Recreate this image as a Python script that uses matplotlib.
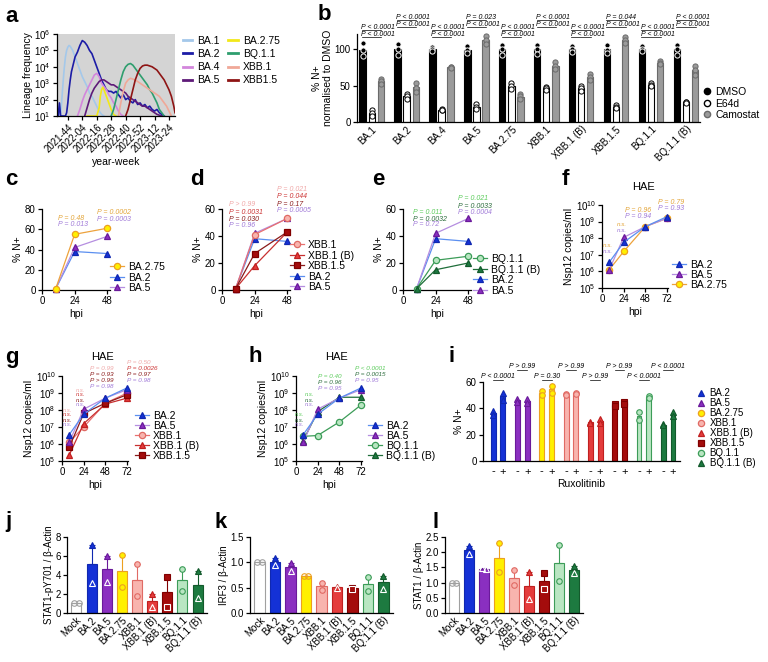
import matplotlib.pyplot as plt
from matplotlib.lines import Line2D
from matplotlib.ticker import NullLocator
import numpy as np

plt.rcParams['font.family'] = ['Liberation Sans', 'DejaVu Sans']
plt.rcParams['font.size'] = 7.5
plt.rcParams['axes.linewidth'] = 0.9
plt.rcParams['xtick.major.width'] = 0.9
plt.rcParams['ytick.major.width'] = 0.9
plt.rcParams['xtick.major.size'] = 3
plt.rcParams['ytick.major.size'] = 3
plt.rcParams['xtick.labelsize'] = 7
plt.rcParams['ytick.labelsize'] = 7
plt.rcParams['xtick.major.pad'] = 1.5
plt.rcParams['ytick.major.pad'] = 1.5
plt.rcParams['mathtext.default'] = 'regular'

# ---------------- data ----------------
# a: lineage frequency, log10 counts per week (week 0 = 2021-44)
week_ticks = [0, 12, 24, 36, 48, 60, 72, 84]
week_labels = ['2021-44', '2022-04', '2022-16', '2022-28', '2022-40', '2022-52', '2023-12', '2023-24']
ba1_wk = [-8, -7, -6, -5, -4, -3, -2, -1, 0, 1, 2, 4, 6, 8, 10, 12, 14, 16, 18, 20, 22, 24, 26, 28, 30]
ba1_lg = [1.0, 1.6, 1.0, 2.0, 3.0, 3.9, 4.6, 5.0, 5.2, 5.3, 5.25, 5.0, 4.6, 4.2, 3.8, 3.4, 3.1, 2.8, 2.4, 2.2, 1.9, 1.6, 1.3, 1.1, 1.0]
ba2_wk = [-8, -7, -6, -5, -4, -3, -2, -1, 0, 1, 2, 3, 4, 5, 6, 8, 10, 12, 14, 16, 18, 20, 22, 24, 26, 28, 30, 32, 34, 36,
          38, 40, 42, 44, 46, 48, 50, 52, 54, 56, 58, 60, 62, 64, 66, 68, 70, 72, 74, 76, 78, 80]
ba2_lg = [1.0, 1.8, 1.0, 1.0, 1.0, 1.0, 1.0, 1.2, 1.8, 2.6, 3.2, 3.7, 4.0, 4.3, 4.6, 4.9, 5.3, 5.6, 5.5, 5.3, 5.0, 4.8, 4.4,
          4.0, 3.6, 3.2, 2.9, 2.6, 2.5, 2.5, 2.4, 2.5, 2.3, 2.1, 2.3, 2.0, 2.1, 1.9, 1.8, 2.0, 1.7, 1.8, 1.6, 1.7, 1.5, 1.6,
          1.4, 1.3, 1.4, 1.2, 1.1, 1.0]
ba4_wk = [8, 10, 12, 14, 16, 18, 20, 22, 24, 26, 28, 30, 32, 34, 36, 38, 40, 42, 44, 46]
ba4_lg = [1.0, 1.4, 1.9, 2.3, 2.6, 2.9, 3.2, 3.5, 3.6, 3.4, 3.0, 2.8, 2.6, 2.3, 2.1, 1.8, 1.6, 1.3, 1.1, 1.0]
ba5_wk = [14, 16, 18, 20, 22, 24, 26, 28, 30, 32, 34, 36, 38, 40, 42, 44, 46, 48, 50, 52, 54, 56, 58, 60, 62, 64, 66,
          68, 70, 72, 74, 76, 78]
ba5_lg = [1.0, 1.5, 2.0, 2.4, 2.7, 2.9, 3.1, 3.2, 3.2, 3.1, 3.0, 2.9, 2.9, 2.8, 2.7, 2.6, 2.5, 2.4, 2.2, 2.1, 2.0, 1.9,
          1.8, 1.7, 1.6, 1.6, 1.5, 1.4, 1.3, 1.2, 1.1, 1.05, 1.0]
ba275_wk = [16, 20, 22, 24, 26, 27, 28, 29, 30, 32, 34, 36, 38, 40]
ba275_lg = [1.0, 1.0, 1.0, 1.0, 1.5, 2.2, 2.6, 2.75, 2.6, 2.2, 1.8, 1.4, 1.1, 1.0]
bq11_wk = [36, 38, 40, 42, 44, 46, 48, 50, 52, 54, 56, 58, 60, 62, 64, 66, 68, 70, 72, 74, 76, 78, 80]
bq11_lg = [1.0, 1.4, 2.0, 2.6, 3.2, 3.7, 4.0, 4.15, 4.2, 4.1, 3.9, 3.7, 3.5, 3.3, 3.1, 2.9, 2.6, 2.4, 2.1, 1.8, 1.4, 1.2, 1.0]
xbb1_wk = [42, 44, 46, 48, 50, 52, 54, 56, 58, 60, 62, 64, 66, 68, 70, 72, 74, 76, 78, 80, 82, 84, 86]
xbb1_lg = [1.0, 1.8, 2.5, 3.0, 3.2, 3.3, 3.25, 3.2, 3.1, 3.0, 2.9, 2.8, 2.7, 2.6, 2.5, 2.4, 2.3, 2.2, 2.0, 1.8, 1.6, 1.3, 1.0]
xbb15_wk = [48, 50, 52, 54, 56, 58, 60, 62, 64, 66, 68, 70, 72, 74, 76, 78, 80, 82, 84, 86, 88, 89]
xbb15_lg = [1.0, 1.4, 2.0, 2.6, 3.2, 3.6, 3.9, 4.05, 4.1, 4.1, 4.05, 4.0, 3.9, 3.8, 3.6, 3.4, 3.2, 2.9, 2.6, 2.2, 1.6, 1.2]

# b: % N+ normalised to DMSO (3 replicates)
b_variants = ['BA.1', 'BA.2', 'BA.4', 'BA.5', 'BA.2.75', 'XBB.1', 'XBB.1 (B)', 'XBB.1.5', 'BQ.1.1', 'BQ.1.1 (B)']
b_dmso = [[108, 99, 90], [107, 100, 92], [103, 100, 97], [104, 98, 95], [106, 100, 92],
          [106, 100, 93], [104, 100, 96], [106, 99, 94], [104, 100, 97], [106, 100, 92]]
b_e64d = [[16, 12, 8], [38, 35, 32], [18, 17, 16], [24, 21, 18], [53, 49, 45],
          [48, 46, 44], [50, 46, 42], [23, 21, 19], [53, 51, 50], [28, 27, 26]]
b_camo = [[59, 56, 52], [54, 47, 41], [76, 75, 74], [118, 113, 107], [38, 35, 31],
          [82, 77, 72], [66, 62, 58], [117, 112, 108], [83, 81, 79], [77, 71, 65]]
b_p_top = ['P < 0.0001', 'P < 0.0001', 'P < 0.0001', 'P = 0.023', 'P < 0.0001',
           'P < 0.0001', 'P < 0.0001', 'P = 0.044', 'P < 0.0001', 'P < 0.0001']
b_p_bot = ['P < 0.0001'] * 10

# c-e: % N+ in Calu-3 cells
hpi = [10, 24, 48]
n_ba2 = [1, 38, 36]
n_ba5 = [1, 42, 53]
n_ba275 = [1, 55, 61]
n_xbb1 = [1, 41, 53]
n_xbb1b = [1, 18, 43]
n_xbb15 = [1, 27, 43]
n_bq11 = [1, 22, 25]
n_bq11b = [1, 15, 20]

# f-h: HAE Nsp12 copies/ml (log10)
hae_hpi = [8, 24, 48, 72]
v_ba2 = [6.55, 7.75, 8.7, 9.3]
v_ba5 = [6.1, 8.05, 8.7, 9.2]
v_ba275 = [6.1, 7.2, 8.7, 9.2]
v_xbb1 = [6.1, 7.0, 8.4, 9.0]
v_xbb1b = [5.35, 7.2, 8.35, 8.7]
v_xbb15 = [5.8, 7.8, 8.4, 8.9]
v_bq11 = [6.45, 6.5, 7.3, 8.3]
v_bq11b = [6.2, 7.9, 8.75, 8.75]

# i: % N+ with / without ruxolitinib
i_variants = ['BA.2', 'BA.5', 'BA.2.75', 'XBB.1', 'XBB.1 (B)', 'XBB.1.5', 'BQ.1.1', 'BQ.1.1 (B)']
i_minus = [[38, 35], [47, 45], [53, 50], [51, 50], [30, 29], [43, 42], [37, 31], [28, 27]]
i_plus = [[52, 46], [47, 44], [57, 52], [52, 51], [32, 29], [45, 43], [49, 48], [37, 34]]
i_p = ['P < 0.0001', 'P > 0.99', 'P = 0.30', 'P > 0.99', 'P > 0.99', 'P > 0.99', 'P < 0.0001', 'P < 0.0001']

# j-l: western blot quantification (2 replicates)
wb_cats = ['Mock', 'BA.2', 'BA.5', 'BA.2.75', 'XBB.1', 'XBB.1 (B)', 'XBB.1.5', 'BQ.1.1', 'BQ.1.1 (B)']
j_pstat1 = [[1.1, 1.1], [7.2, 3.2], [6.0, 3.3], [6.1, 2.7], [5.2, 1.8], [2.0, 0.6], [3.8, 0.6], [4.6, 2.3], [4.4, 1.6]]
k_irf3 = [[1.0, 1.0], [1.08, 0.95], [0.98, 0.82], [0.74, 0.74], [0.6, 0.45], [0.52, 0.49], [0.5, 0.47], [0.71, 0.44], [0.74, 0.48]]
l_stat1 = [[1.0, 1.0], [2.2, 1.95], [1.47, 1.45], [2.3, 1.35], [1.4, 0.92], [1.35, 0.45], [1.3, 0.8], [2.25, 1.05], [1.55, 1.3]]

# ---------------- styles ----------------
# name: (marker, face, edge, line)
sty = {
    'Mock': ('o', 'white', '#a0a0a0', '#a0a0a0'),
    'BA.2': ('^', '#1431d6', '#1028b0', '#5b8ff0'),
    'BA.5': ('^', '#8a2fc0', '#6a1a9a', '#b58ee0'),
    'BA.2.75': ('o', '#fff000', '#eca020', '#eda23c'),
    'XBB.1': ('o', '#f8b4ae', '#e06a64', '#e87070'),
    'XBB.1 (B)': ('^', '#e43c3c', '#c02020', '#c83030'),
    'XBB.1.5': ('s', '#a40c0c', '#800000', '#8a1a1a'),
    'BQ.1.1': ('o', '#b9e6c2', '#3c9c58', '#3c9c58'),
    'BQ.1.1 (B)': ('^', '#1d7a40', '#135a2c', '#1f6e3a'),
}
ptc = {'orange': '#e3a53a', 'purple': '#a07ad8', 'pink': '#f0a8a8', 'red': '#cc3333',
       'dred': '#8a1a1a', 'lgreen': '#5ccc5c', 'dgreen': '#2e6e3e'}

W, H = 768, 662
fig = plt.figure(figsize=(W / 100, H / 100), dpi=100)


def box(x0, y0, x1, y1):
    ax = fig.add_axes([x0 / W, 1 - y1 / H, (x1 - x0) / W, (y1 - y0) / H])
    ax.spines['top'].set_visible(False)
    ax.spines['right'].set_visible(False)
    return ax


def ftxt(x, y, s, color='black', size=5, style='italic', **kw):
    fig.text(x / W, 1 - y / H, s, color=color, fontsize=size, style=style, va='center', ha='left', **kw)


def fleg(handles, x, y, size=7.5, **kw):
    fig.legend(handles=handles, loc='upper left', bbox_to_anchor=(x / W, 1 - y / H), frameon=False,
               fontsize=size, borderpad=0, borderaxespad=0, **kw)


def mk_handle(name, with_line=True):
    m, f, e, l = sty[name]
    return Line2D([], [], marker=m, mfc=f, mec=e, color=l, ms=4.5, mew=0.9,
                  lw=0.9 if with_line else 0, label=name)


def curve(ax, x, y, name):
    m, f, e, l = sty[name]
    ax.plot(x, y, color=l, lw=0.9, marker=m, mfc=f, mec=e, ms=4.5, mew=0.9, clip_on=False, zorder=3)


for lab, x, y in [('a', 5, 16), ('b', 318, 14), ('c', 5, 180), ('d', 190, 180), ('e', 372, 180), ('f', 562, 180),
                  ('g', 5, 357), ('h', 248, 357), ('i', 448, 357), ('j', 5, 522), ('k', 215, 522), ('l', 433, 522)]:
    ftxt(x, y, lab, size=16, style='normal', weight='bold')

# ---------------- a ----------------
ax = box(57, 34, 175, 116)
ax.set_facecolor('#d4d4d4')
a_series = [('BA.1', ba1_wk, ba1_lg, '#a4c8ea'), ('BA.2', ba2_wk, ba2_lg, '#1c1ca6'),
            ('BA.4', ba4_wk, ba4_lg, '#d386dc'), ('BA.5', ba5_wk, ba5_lg, '#5e1a78'),
            ('BA.2.75', ba275_wk, ba275_lg, '#f2e81a'), ('BQ.1.1', bq11_wk, bq11_lg, '#2e9e6e'),
            ('XBB.1', xbb1_wk, xbb1_lg, '#f0a898'), ('XBB1.5', xbb15_wk, xbb15_lg, '#8e1414')]
a_handles = []
for name, wk, lg, col in a_series:
    ax.plot(wk, 10.0 ** np.array(lg), color=col, lw=1.2)
    a_handles.append(Line2D([], [], color=col, lw=2, label=name))
ax.set_yscale('log')
ax.set_ylim(10, 1e6)
ax.set_xlim(-9, 89)
ax.set_yticks([1e1, 1e2, 1e3, 1e4, 1e5, 1e6])
ax.yaxis.set_minor_locator(NullLocator())
ax.set_xticks(week_ticks)
ax.set_xticklabels(week_labels, rotation=45, ha='right', rotation_mode='anchor')
ax.set_ylabel('Lineage frequency', fontsize=7.5, labelpad=1)
ax.set_xlabel('year-week', fontsize=7.5, labelpad=2)
fleg(a_handles, 183, 36, size=7.5, ncol=2, handlelength=0.9, handletextpad=0.5, labelspacing=0.3,
     columnspacing=0.8)

# ---------------- b ----------------
ax = box(357, 34.4, 700, 122)
xb = np.arange(len(b_variants))
offs = [-0.26, 0, 0.26]
conds = [(b_dmso, 'black', 'black', 'black', 'white'),
         (b_e64d, 'white', 'black', 'white', 'black'),
         (b_camo, '#9b9b9b', '#6a6a6a', '#9b9b9b', '#6a6a6a')]
for (vals, fc, ec, pfc, pec), dx in zip(conds, offs):
    for k, reps in enumerate(vals):
        ax.bar(k + dx, np.mean(reps), width=0.18, color=fc, edgecolor=ec, lw=0.8, zorder=2)
        ax.scatter([k + dx] * len(reps), reps, s=14, c=pfc, edgecolors=pec, linewidths=0.7, zorder=3,
                   clip_on=False)
# y (data units) of the text rows: 0.73 px per unit, axis origin at 122 px
for k in range(len(b_variants)):
    hi = k % 2 == 1
    rows = [(143.8, b_p_top[k]), (134.2, b_p_bot[k])] if hi else [(130.1, b_p_top[k]), (120.5, b_p_bot[k])]
    for yy, s in rows:
        ax.text(k - 0.3, yy, s, fontsize=5, style='italic', ha='left', va='center', clip_on=False)
        ax.plot([k - 0.28, k + 0.28], [yy - 3.6, yy - 3.6], color='black', lw=0.5, clip_on=False)
ax.set_xlim(-0.42, 9.4)
ax.set_ylim(0, 120)
ax.set_yticks([0, 50, 100])
ax.set_xticks(xb)
ax.set_xticklabels(b_variants, rotation=45, ha='right', rotation_mode='anchor', fontsize=7)
ax.tick_params(axis='x', length=0)
ax.set_ylabel('% N+\nnormalised to DMSO', fontsize=7.5, labelpad=1, linespacing=1.1)
fleg([Line2D([], [], marker='o', ls='', mfc='black', mec='black', ms=4.5, label='DMSO'),
      Line2D([], [], marker='o', ls='', mfc='white', mec='black', ms=4.5, label='E64d'),
      Line2D([], [], marker='o', ls='', mfc='#9b9b9b', mec='#6a6a6a', ms=4.5, label='Camostat')],
     703, 87, size=7.5, handlelength=0.8, handletextpad=0.4, labelspacing=0.15)


# ---------------- c, d, e ----------------
def npanel(x0, series, legend_names, ymax, yticks, lx, ly):
    ax = box(x0, 209, x0 + 68, 290)
    for name, vals in series:
        curve(ax, hpi, vals, name)
    ax.set_xlim(0, 50)
    ax.set_ylim(0, ymax)
    ax.set_xticks([0, 24, 48])
    ax.set_yticks(yticks)
    ax.set_ylabel('% N+', fontsize=7.5, labelpad=1)
    ax.set_xlabel('hpi', fontsize=7.5, labelpad=2)
    fleg([mk_handle(n) for n in legend_names], lx, ly, size=7.5, handlelength=1.3, handletextpad=0.4,
         labelspacing=0.05)
    return ax


npanel(42, [('BA.2', n_ba2), ('BA.5', n_ba5), ('BA.2.75', n_ba275)], ['BA.2.75', 'BA.2', 'BA.5'],
       80, [0, 20, 40, 60, 80], 110, 262)
ftxt(58, 218, 'P = 0.48', ptc['orange'])
ftxt(58, 224, 'P = 0.013', ptc['purple'])
ftxt(97, 212, 'P = 0.0002', ptc['orange'])
ftxt(97, 219, 'P = 0.0003', ptc['purple'])

npanel(222, [('BA.2', n_ba2), ('BA.5', n_ba5), ('XBB.1', n_xbb1), ('XBB.1 (B)', n_xbb1b), ('XBB.1.5', n_xbb15)],
       ['XBB.1', 'XBB.1 (B)', 'XBB.1.5', 'BA.2', 'BA.5'], 60, [0, 20, 40, 60], 290, 240)
for y, s, c in [(205, 'P > 0.99', 'pink'), (212, 'P = 0.0031', 'red'), (219, 'P = 0.030', 'dred'),
                (226, 'P = 0.96', 'purple')]:
    ftxt(229, y, s, ptc[c])
for y, s, c in [(190, 'P = 0.021', 'pink'), (197, 'P = 0.044', 'red'), (204, 'P = 0.17', 'dred'),
                (211, 'P = 0.0005', 'purple')]:
    ftxt(277, y, s, ptc[c])

npanel(403, [('BA.2', n_ba2), ('BA.5', n_ba5), ('BQ.1.1', n_bq11), ('BQ.1.1 (B)', n_bq11b)],
       ['BQ.1.1', 'BQ.1.1 (B)', 'BA.2', 'BA.5'], 60, [0, 20, 40, 60], 473, 254)
for y, s, c in [(212, 'P = 0.011', 'lgreen'), (219, 'P = 0.0032', 'dgreen'), (225, 'P = 0.72', 'purple')]:
    ftxt(413, y, s, ptc[c])
for y, s, c in [(198, 'P = 0.021', 'lgreen'), (206, 'P = 0.0033', 'dgreen'), (213, 'P = 0.0004', 'purple')]:
    ftxt(458, y, s, ptc[c])


# ---------------- f, g, h ----------------
def hpanel(x0, y0, y1, series, legend_names, lx, ly):
    ax = box(x0, y0, x0 + 66, y1)
    for name, vals in series:
        curve(ax, hae_hpi, 10.0 ** np.array(vals), name)
    ax.set_yscale('log')
    ax.set_ylim(1e5, 1e10)
    ax.set_yticks([1e5, 1e6, 1e7, 1e8, 1e9, 1e10])
    ax.yaxis.set_minor_locator(NullLocator())
    ax.set_xlim(0, 73)
    ax.set_xticks([0, 24, 48, 72])
    ax.set_ylabel('Nsp12 copies/ml', fontsize=7.5, labelpad=1)
    ax.set_xlabel('hpi', fontsize=7.5, labelpad=2)
    fleg([mk_handle(n) for n in legend_names], lx, ly, size=7.5, handlelength=1.3, handletextpad=0.4,
         labelspacing=0.0)
    return ax


hpanel(602, 205, 288, [('BA.2.75', v_ba275), ('BA.5', v_ba5), ('BA.2', v_ba2)], ['BA.2', 'BA.5', 'BA.2.75'],
       672, 260)
ftxt(632, 187, 'HAE', size=8, style='normal')
ftxt(625, 210, 'P = 0.96', ptc['orange'])
ftxt(625, 217, 'P = 0.94', ptc['purple'])
ftxt(658, 202, 'P = 0.79', ptc['orange'])
ftxt(658, 209, 'P = 0.93', ptc['purple'])
for x, y, c in [(603, 245, 'orange'), (603, 252, 'purple'), (617, 225, 'orange'), (617, 231, 'purple')]:
    ftxt(x, y, 'n.s.', ptc[c], size=4.5)

hpanel(62, 376, 461, [('XBB.1', v_xbb1), ('XBB.1 (B)', v_xbb1b), ('XBB.1.5', v_xbb15), ('BA.5', v_ba5),
                      ('BA.2', v_ba2)],
       ['BA.2', 'BA.5', 'XBB.1', 'XBB.1 (B)', 'XBB.1.5'], 135, 411)
ftxt(91, 357, 'HAE', size=8, style='normal')
for y, s, c in [(362, 'P = 0.50', 'pink'), (368, 'P = 0.0026', 'red'), (374, 'P = 0.97', 'dred'),
                (380, 'P = 0.98', 'purple')]:
    ftxt(127, y, s, ptc[c], size=4.6)
for y, s, c in [(368, 'P = 0.99', 'pink'), (374, 'P = 0.93', 'dred'), (380, 'P > 0.99', 'dred'),
                (386, 'P = 0.98', 'purple')]:
    ftxt(90, y, s, ptc[c], size=4.6)
for x, y0 in [(63, 410), (76, 390)]:
    for j, c in enumerate(['pink', 'red', 'dred', 'purple']):
        ftxt(x, y0 + 5 * j, 'n.s.', ptc[c], size=4.2)

hpanel(296, 376, 461, [('BQ.1.1', v_bq11), ('BQ.1.1 (B)', v_bq11b), ('BA.5', v_ba5), ('BA.2', v_ba2)],
       ['BA.2', 'BA.5', 'BQ.1.1', 'BQ.1.1 (B)'], 368, 421)
ftxt(325, 357, 'HAE', size=8, style='normal')
for y, s, c in [(376, 'P = 0.40', 'lgreen'), (382, 'P = 0.96', 'dgreen'), (388, 'P = 0.95', 'purple')]:
    ftxt(318, y, s, ptc[c], size=4.6)
for y, s, c in [(369, 'P < 0.0001', 'lgreen'), (375, 'P = 0.0015', 'dgreen'), (381, 'P = 0.95', 'purple')]:
    ftxt(355, y, s, ptc[c], size=4.6)
for x, y0 in [(295, 415), (305, 395)]:
    for j, c in enumerate(['lgreen', 'dgreen', 'purple']):
        ftxt(x, y0 + 5 * j, 'n.s.', ptc[c], size=4.2)

# ---------------- i ----------------
ax = box(483, 382, 680, 461)
xticks, xlabels = [], []
for k, name in enumerate(i_variants):
    m, f, e, l = sty[name]
    for dx, reps, sign in [(-0.2, i_minus[k], '-'), (0.2, i_plus[k], '+')]:
        ax.bar(k + dx, np.mean(reps), width=0.2, color=f, edgecolor=e, lw=0.8, zorder=2)
        ax.plot([k + dx] * len(reps), reps, ls='', marker=m, mfc=f, mec=e, ms=4, mew=0.8, zorder=3,
                clip_on=False)
        xticks.append(k + dx)
        xlabels.append(sign)
    # text rows at 367 px (high) / 377 px (low); 1.317 px per unit, origin at 461 px
    yy = 71.4 if k % 2 == 1 else 63.8
    ax.text(k, yy, i_p[k], fontsize=5, style='italic', ha='center', va='center', clip_on=False)
    ax.plot([k - 0.2, k + 0.2], [yy - 2.4, yy - 2.4], color='black', lw=0.5, clip_on=False)
ax.set_xlim(-0.62, 7.49)
ax.set_ylim(0, 60)
ax.set_yticks([0, 20, 40, 60])
ax.set_xticks(xticks)
ax.set_xticklabels(xlabels, fontsize=8)
ax.tick_params(axis='x', length=0, pad=4)
ax.set_ylabel('% N+', fontsize=7.5, labelpad=1)
ax.set_xlabel('Ruxolitinib', fontsize=7.5, labelpad=2)
fleg([mk_handle(n, with_line=False) for n in i_variants], 697, 388, size=7, handlelength=0.8,
     handletextpad=0.5, labelspacing=0.0)


# ---------------- j, k, l ----------------
def wb(x0, x1, pts, ymax, yticks, ylabel):
    ax = box(x0, 537, x1, 613)
    for k, name in enumerate(wb_cats):
        m, f, e, l = sty[name]
        mean = np.mean(pts[k])
        sem = np.std(pts[k], ddof=1) / np.sqrt(len(pts[k]))
        ax.bar(k, mean, width=0.66, color=f, edgecolor=e, lw=0.8, zorder=2)
        ax.errorbar(k, mean, yerr=[[0], [sem]], color=e, lw=0.8, capsize=2, capthick=0.8, zorder=2)
        same = abs(pts[k][0] - pts[k][1]) < 0.02 * ymax
        dark = name in ('BA.2', 'BA.5', 'XBB.1 (B)', 'XBB.1.5', 'BQ.1.1 (B)')
        for j, v in enumerate(pts[k]):
            dx = (-0.14 if j == 0 else 0.14) if same else 0
            if v < mean or same:
                mec, mfc = ('white' if dark else e), 'none'
            else:
                mec, mfc = e, f
            ax.plot(k + dx, v, ls='', marker=m, mfc=mfc, mec=mec, ms=4, mew=0.8, zorder=3)
    ax.set_xlim(-0.62, 8.62)
    ax.set_ylim(0, ymax)
    ax.set_yticks(yticks)
    ax.set_xticks(range(len(wb_cats)))
    ax.set_xticklabels(wb_cats, rotation=45, ha='right', rotation_mode='anchor', fontsize=7)
    ax.tick_params(axis='x', length=0)
    ax.set_ylabel(ylabel, fontsize=7, labelpad=1)
    return ax


wb(67, 207, j_pstat1, 8, [0, 2, 4, 6, 8], 'STAT1-pY701 / β-Actin')
ax = wb(250, 393, k_irf3, 1.5, [0.0, 0.5, 1.0, 1.5], 'IRF3 / β-Actin')
ax.set_yticklabels(['0.0', '0.5', '1.0', '1.5'])
ax = wb(445, 583, l_stat1, 2.5, [0.0, 0.5, 1.0, 1.5, 2.0, 2.5], 'STAT1 / β-Actin')
ax.set_yticklabels(['0.0', '0.5', '1.0', '1.5', '2.0', '2.5'])

fig.savefig('out.png', dpi=100)
